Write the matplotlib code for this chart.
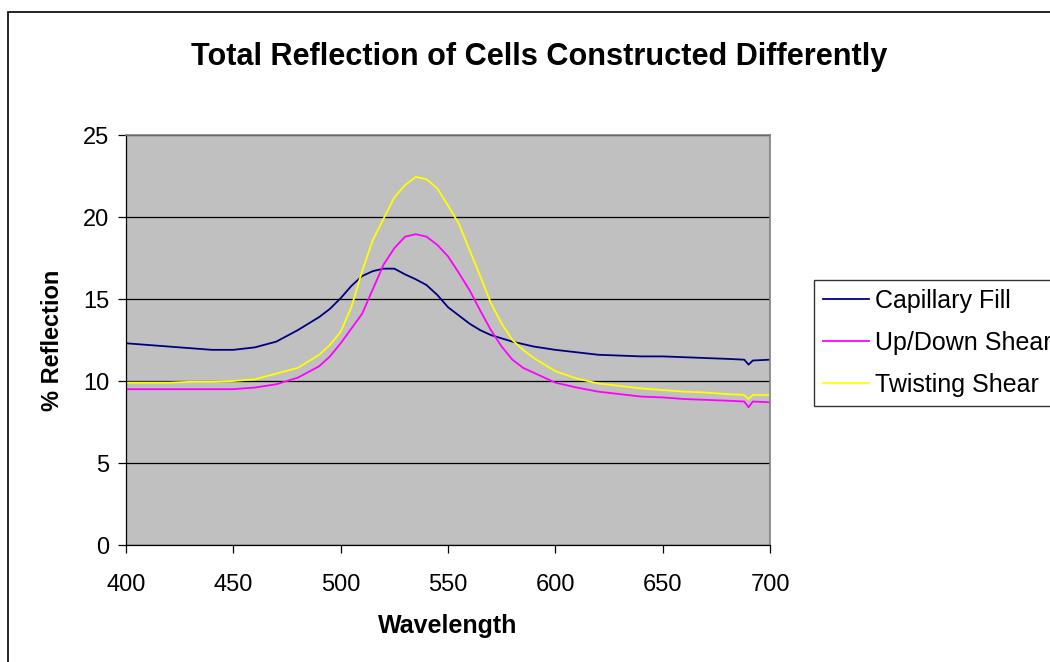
import matplotlib
matplotlib.use("Agg")
from matplotlib import pyplot as plt
from matplotlib.patches import Rectangle

plt.rcParams['font.family'] = ['Liberation Sans', 'DejaVu Sans']

# Wavelength (nm) shared by all three series
wavelength = [400, 410, 420, 430, 440, 450, 460, 470, 480, 490, 495, 500, 505,
              510, 515, 520, 525, 530, 535, 540, 545, 550, 555, 560, 565, 570,
              575, 580, 585, 590, 600, 610, 620, 630, 640, 650, 660, 670, 680,
              688, 690, 692, 700]

capillary_fill = [12.3, 12.2, 12.1, 12.0, 11.9, 11.9, 12.05, 12.4, 13.1, 13.9,
                  14.4, 15.05, 15.8, 16.4, 16.7, 16.85, 16.85, 16.5, 16.2,
                  15.85, 15.25, 14.5, 14.0, 13.5, 13.1, 12.8, 12.6, 12.4,
                  12.25, 12.1, 11.9, 11.75, 11.6, 11.55, 11.5, 11.5, 11.45,
                  11.4, 11.35, 11.3, 11.0, 11.25, 11.3]

updown_shear = [9.5, 9.5, 9.5, 9.5, 9.5, 9.5, 9.6, 9.8, 10.2, 10.9, 11.5, 12.3,
                13.2, 14.1, 15.6, 17.1, 18.1, 18.8, 18.95, 18.8, 18.3, 17.6,
                16.6, 15.55, 14.3, 13.1, 12.1, 11.3, 10.8, 10.5, 9.9, 9.6,
                9.35, 9.2, 9.05, 9.0, 8.9, 8.85, 8.8, 8.75, 8.4, 8.75, 8.7]

twisting_shear = [9.9, 9.9, 9.9, 9.95, 9.95, 10.0, 10.1, 10.45, 10.8, 11.6,
                  12.2, 13.0, 14.5, 16.7, 18.6, 19.9, 21.2, 21.95, 22.45, 22.3,
                  21.75, 20.7, 19.6, 18.0, 16.4, 14.75, 13.5, 12.5, 11.9, 11.4,
                  10.6, 10.15, 9.85, 9.7, 9.55, 9.45, 9.35, 9.3, 9.2, 9.15,
                  8.9, 9.15, 9.15]

labels = ['Capillary Fill', 'Up/Down Shear', 'Twisting Shear']
colors = ['#000080', '#FF00FF', '#FFFF00']

fig = plt.figure(figsize=(10.5, 6.62), dpi=100)
W, H = 1050, 662

# outer chart border (cut off on the right and bottom like the original)
fig.patches.append(Rectangle((8 / W, -0.1), 1.2, 1 - 12 / H + 0.1,
                             transform=fig.transFigure, fill=False,
                             edgecolor='black', linewidth=1.2))

ax = fig.add_axes([126 / W, 1 - 545 / H, 644 / W, 410 / H])
ax.set_facecolor('#C0C0C0')

for y, lab, c in zip([capillary_fill, updown_shear, twisting_shear], labels, colors):
    ax.plot(wavelength, y, color=c, linewidth=1.3, label=lab)

ax.set_xlim(400, 700)
ax.set_ylim(0, 25)
ax.set_xticks(range(400, 701, 50))
ax.set_yticks(range(0, 26, 5))
ax.yaxis.grid(True, color='black', linewidth=0.9)
ax.set_axisbelow(True)
ax.tick_params(labelsize=17, direction='out', length=6, width=0.9, colors='black')
ax.tick_params(axis='x', pad=15)
ax.tick_params(axis='y', pad=6)

for side in ['top', 'right']:
    ax.spines[side].set_color('#808080')
    ax.spines[side].set_linewidth(1.2)
for side in ['left', 'bottom']:
    ax.spines[side].set_color('black')
    ax.spines[side].set_linewidth(0.9)

ax.set_xlabel('Wavelength', fontsize=18, fontweight='bold', labelpad=13)
ax.set_ylabel('% Reflection', fontsize=17, fontweight='bold', labelpad=14)

fig.text(539 / W, 1 - 57 / H, 'Total Reflection of Cells Constructed Differently',
         ha='center', va='center', fontsize=22.1, fontweight='bold')

leg = fig.legend(loc='upper left', bbox_to_anchor=(814 / W, 1 - 280 / H),
                 fontsize=18, frameon=True, fancybox=False, edgecolor='black',
                 handlelength=1.85, handletextpad=0.25, labelspacing=0.72,
                 borderpad=0.35, borderaxespad=0)
leg.get_frame().set_linewidth(1.0)

fig.savefig('out.png', dpi=100)
